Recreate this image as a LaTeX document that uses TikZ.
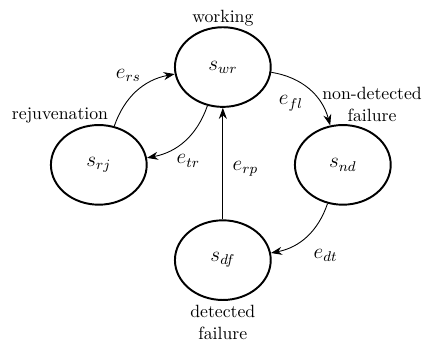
\documentclass[tikz,border=0pt]{standalone}
\usepackage{amsmath}
\usepackage{tikz}
\usetikzlibrary{arrows.meta,positioning,shapes.geometric}

\begin{document}
\begin{tikzpicture}[
    state/.style={draw, ellipse, line width=1.1pt, minimum width=1.9cm, minimum height=1.58cm, font=\large},
    arrow/.style={-{Stealth[length=2.2mm, width=1.6mm]}, line width=0.5pt},
    lbl/.style={font=\large},
    on grid
  ]
    \useasboundingbox (-4.42,-5.45) rectangle (3.97,1.33);
    \node[state, label={[label distance=-3.5pt]above:working}] (swr) {$s_{wr}$};
    \node[state, below left=1.94cm and 2.46cm of swr,
          label={[xshift=-0.77cm, label distance=-3pt]above:rejuvenation}] (srj) {$s_{rj}$};
    \node[state, below right=1.94cm and 2.38cm of swr,
          label={[xshift=0.58cm, align=center, label distance=-2pt]above:non-detected\\failure}] (snd) {$s_{nd}$};
    \node[state, below=3.83cm of swr,
          label={[align=center, label distance=-1pt]below:detected\\failure}] (sdf) {$s_{df}$};
    \draw[arrow] (srj) to[bend left=30] node[lbl, above left=-2pt, pos=0.62] {$e_{rs}$} (swr);
    \draw[arrow] (swr) to[bend left=30] node[lbl, below right=-1pt, pos=0.7] {$e_{tr}$} (srj);
    \draw[arrow] (swr) to[bend left=33] node[lbl, below left, pos=0.5] {$e_{fl}$} (snd);
    \draw[arrow] (snd) to[bend left=30] node[lbl, below right=3pt, pos=0.55] {$e_{dt}$} (sdf);
    \draw[arrow] (sdf) -- node[lbl, right=2pt, pos=0.45] {$e_{rp}$} (swr);
  \end{tikzpicture}
\end{document}
